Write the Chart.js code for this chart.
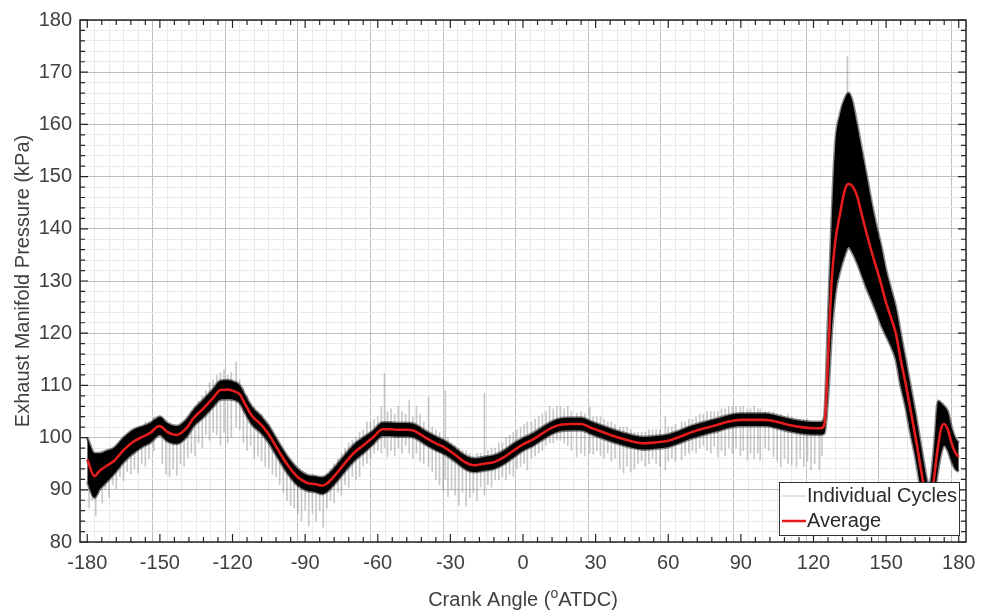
<!DOCTYPE html>
<html>
<head>
<meta charset="utf-8">
<script src="https://cdn.jsdelivr.net/npm/chart.js@4.4.1/dist/chart.umd.min.js"></script>
<style>
  body { margin: 0; background: #fff; }
  #wrap { width: 985px; height: 616px; }
</style>
</head>
<body>
<div id="wrap"><canvas id="pressureChart" width="985" height="616"></canvas></div>
<script>
// crank angle (deg ATDC) and pressure traces
const angles = [-180,-177,-175,-172,-169,-165,-161,-157,-154,-151,-150,-147,-143,-139,-136,-132,-128,-125,-122,-120,-117,-115,-112,-108,-105,-101,-97,-93,-89,-86,-83,-81,-78,-75,-70,-66,-62,-58,-55,-52,-48,-45,-40,-36,-32,-28,-24,-20,-16,-12,-8,-4,0,4,8,12,16,20,24,28,32,38,44,50,55,60,65,70,75,80,85,90,95,100,105,110,115,120,123,124.5,126,127.5,129,131,133,134.5,136,138,140,142,144,146,148,150,152,154,156,158,160,162,164,166,167,168,169,170,171.5,173,174,175.5,177,178.5,180];

const avgPressure = [95.8,92.6,93.6,94.6,95.5,97.6,99.2,100.2,100.9,102.1,102.2,101.1,100.5,101.8,103.8,105.6,107.6,109.1,109.2,109.0,108.3,106.6,104.2,102.4,100.6,97.5,94.6,92.4,91.3,91.1,90.8,91.2,92.6,94.3,97.0,98.5,100.0,101.6,101.6,101.5,101.5,101.3,99.9,98.9,98.0,96.7,95.3,94.7,95.0,95.3,96.2,97.5,98.7,99.6,100.8,101.9,102.5,102.6,102.6,101.9,101.2,100.2,99.4,98.9,99.1,99.4,100.2,101.1,101.8,102.4,103.1,103.4,103.4,103.4,103.0,102.4,102.0,101.8,101.8,102.5,115,130,137.5,143,147.5,148.6,148.2,146.3,142.6,139,135.6,132.5,129.3,125.8,123.0,120.0,115,110.5,105.5,100.5,95,89.5,87,86.5,89,93,98.5,102.2,102.6,101.5,99,97.2,96.3];

// upper / lower edge of the dense band of individual cycles
const bandHigh = [100,97,97,97.5,98,100,101.5,102.2,102.8,103.8,104,102.8,102.2,103.5,105.4,107.3,109.3,110.9,111,110.8,110,108.3,105.9,104,102.2,99.1,96.2,94,92.8,92.6,92.4,92.8,94.2,95.9,98.6,100,101.3,102.9,102.9,102.8,102.8,102.6,101.2,100.2,99.3,98,96.6,96,96.3,96.6,97.5,98.8,99.9,100.8,102,103.1,103.7,103.8,103.8,103.1,102.4,101.4,100.6,100.1,100.3,100.6,101.4,102.3,103,103.6,104.3,104.6,104.6,104.6,104.2,103.6,103.2,103,103,104,122,141,156,162,165,166,164.5,160,155,150,145,140.5,136.6,132,128.5,125,120,115,110,105,99.5,94,91.5,91,94,99,107,106.5,106,105,102,100,99];
const bandLow = [91.5,88.5,90,91.5,93,95.3,97,98.3,99,100.3,100.5,99.3,98.8,100.1,102.2,103.9,105.9,107.3,107.4,107.3,106.6,104.9,102.5,100.8,99,95.9,93,90.8,89.8,89.6,89.2,89.6,91,92.7,95.4,97,98.7,100.3,100.3,100.2,100.2,100,98.6,97.6,96.7,95.4,94,93.4,93.7,94,94.9,96.2,97.5,98.4,99.6,100.7,101.3,101.4,101.4,100.7,100,99,98.2,97.7,97.9,98.2,99,99.9,100.6,101.2,101.9,102.2,102.2,102.2,101.8,101.2,100.8,100.6,100.6,100.8,108,120,127.5,132,135,136.5,135.5,133.5,131,128.5,126.3,124,121.5,119.5,117.5,115,110,106,101,96.5,91,85.5,83.5,83,85,89,94,97.5,98.5,97.5,95.5,94,93.5];

// stray cycles poking out of the band: angle, min, max
const spikeAngles = [-179.2,-178,-176.5,-175.5,-173.8,-172.5,-171,-169.5,-168,-166.5,-165,-163.5,-162,-160.5,-159,-157.5,-156,-154.5,-152.5,-149,-147.5,-146,-144.5,-143,-141.5,-140,-138.5,-137,-135.5,-134,-132.5,-131,-129.5,-128,-126.5,-125,-123.5,-122,-120.5,-118.5,-117,-115.5,-114,-112.5,-111,-109.5,-108,-106.5,-105,-103.5,-102,-100.5,-99,-97.5,-96,-94.5,-93,-91.5,-90,-88.5,-87,-85.5,-84,-82.5,-81,-79.5,-78,-76.5,-75,-73.5,-72,-70.5,-69,-67.5,-66,-64.5,-63,-61.5,-60,-58.5,-57.2,-56,-54.5,-53,-51.5,-50,-48.5,-47,-45.5,-44,-42.5,-41,-39,-37.5,-36,-34.5,-33,-32.1,-31,-29.5,-28,-26.5,-25,-23.5,-22,-20.5,-19,-17.5,-15.9,-14.5,-13,-11.5,-10,-8.5,-7,-5.5,-4,-2.5,-1,0.5,1.8,3.5,5,6.5,8,9.5,11,12.5,14,15.5,17,18.5,20,22.2,24,25.5,27.6,29,30.5,32,33.5,35,36.5,38,40,41.5,43,44.5,46,47.5,49,50.5,52,53.5,55,56.5,58.8,60,61.5,63,65.5,67,68.5,70,71.5,73,74.5,76,77.6,79,80.5,82,83.5,85,86.5,88,89.8,91,92.7,94,95.5,97,98,100,101.5,103.5,105,106.5,108,109.5,111,113,114.5,116,117.5,119,120.5,122.4,123.5,134];
const spikeMin = [86.5,88,85,89,87.5,90,88.5,91,90.2,92.5,91.8,93.5,93,94,93.2,95,94.5,96,97.5,95,93,92.5,94,92.8,95,94.5,96.2,97,96.5,99,98,100.5,99.5,101,100.5,98.5,101,99,100,102,101.5,99,97.5,98.5,96,96.5,95.5,94.5,94.2,93,92.5,91,89.5,88,87,86.5,85.5,84,86,83,85.5,84,86,82.8,86.5,88,87.5,89.5,89,91,90.5,92.5,92,92.5,94.5,95,96,97,97.5,97,98,96.3,97.5,96.5,98,97,98.5,97,96,97,95.5,95,94.5,93.5,92,91,90,92,88.7,90,89,87,89.5,86.8,88.5,89.5,88,90.5,89,91,90.5,92,91.9,92.5,92,93,92.5,94,94.5,95,93.8,96,96.5,97,97.5,98.5,99,99,99.5,99.5,99,98.5,97.5,96.3,97,96.5,97,96.8,97.5,96.5,96,97,95.5,96,94,93.2,94.5,93.5,94,95,95.5,94.5,95,96,95,94.5,93.8,95.5,96,95.5,95.7,96.5,97,97.5,97,98,98.5,97.5,97,98.3,96.3,97.5,96.5,98,97,98,96.5,97.5,95.7,97,96,97,95.7,98,97.5,96.3,95.5,94.4,96,95,94.8,94.4,96,94.4,95.5,93.8,95,93.8,96.5,150];
const spikeMax = [95,94,92,95,94,96.5,95,97,97,98.5,99,100,101,101.5,102,102,103,103,104,103,102,101.5,101,101,102,102.5,104,105,106,107,108,109,110.5,111,112,112.5,113,112,112.5,114.5,111,109.5,108,106.5,106,105,104.5,103,102.5,101,99.5,98,97,96,95,94,93.5,93,93,92.5,93,92.5,92.5,92.5,93,94,95,96,97,98,99,99.5,100,101,101.5,103,103,103.5,104,106,112.3,105,105.5,104.5,106,105,104.5,107.2,104,106,104.5,103,107.8,102,101.5,101,100,109,100,99,98.5,98,97.5,97.5,97,96.5,97,97,108.5,97.5,98,98,99,99,100,100.5,101,101.5,102,102.5,103,103,103.5,104,104.5,105,106,105.5,106,106,105.5,106,105,104.7,105,104.5,105.9,104,104,104,103.5,103,103,102.5,102,102,102,101.5,101,101,101,101,101.5,101.5,101.5,101.5,104,102,102,102.5,103,103,103.5,103.5,104,104.5,104.5,105,105,105,105,105.5,105.5,106,106,106,106,106,105.5,105.5,106,105.5,105.5,105,105,105,104.5,104.5,104,104.5,104,103.5,103.5,103.5,103.5,103,103,103,103,173];

const xTickLabels = [-180,-150,-120,-90,-60,-30,0,30,60,90,120,150,180];
const yTickLabels = [80,90,100,110,120,130,140,150,160,170,180];

const FONT = "'Liberation Sans', Arial, sans-serif";
const TEXT_COLOR = '#404040';
const RED = 'rgb(228,28,28)';

const toPoints = (ys) => angles.map((a, i) => ({ x: a, y: ys[i] }));
const spikeData = spikeAngles.map((a, i) => ({ x: a, y: [spikeMin[i], spikeMax[i]] }));

function gridColor(step) {
  return (c) => {
    if (!c.tick) return '#ebebeb';
    return Math.round(c.tick.value) % step === 0 ? '#bfbfbf' : '#eaeaea';
  };
}

// frame, inward ticks, axis titles and legend in MATLAB style
const matlabFrame = {
  id: 'matlabFrame',
  afterDraw(chart) {
    const { ctx, chartArea: ca, scales } = chart;
    ctx.save();
    ctx.strokeStyle = '#262626';
    ctx.lineWidth = 1.5;
    ctx.strokeRect(ca.left, ca.top, ca.right - ca.left, ca.bottom - ca.top);

    ctx.lineWidth = 1.2;
    ctx.beginPath();
    scales.x.ticks.forEach(t => {
      const px = scales.x.getPixelForValue(t.value);
      const len = Math.round(t.value) % 30 === 0 ? 8 : 5;
      ctx.moveTo(px, ca.bottom); ctx.lineTo(px, ca.bottom - len);
      ctx.moveTo(px, ca.top); ctx.lineTo(px, ca.top + len);
    });
    scales.y.ticks.forEach(t => {
      const py = scales.y.getPixelForValue(t.value);
      const len = Math.round(t.value) % 10 === 0 ? 8 : 5;
      ctx.moveTo(ca.left, py); ctx.lineTo(ca.left + len, py);
      ctx.moveTo(ca.right, py); ctx.lineTo(ca.right - len, py);
    });
    ctx.stroke();

    // y title
    ctx.fillStyle = TEXT_COLOR;
    ctx.font = '20px ' + FONT;
    ctx.textAlign = 'center';
    ctx.textBaseline = 'middle';
    ctx.save();
    ctx.translate(23, (ca.top + ca.bottom) / 2);
    ctx.rotate(-Math.PI / 2);
    ctx.fillText('Exhaust Manifold Pressure (kPa)', 0, 0);
    ctx.restore();

    // x title with superscript o
    const a = 'Crank Angle (', sup = 'o', b = 'ATDC)';
    ctx.textBaseline = 'alphabetic';
    ctx.textAlign = 'left';
    ctx.font = '20px ' + FONT;
    const wa = ctx.measureText(a).width, wb = ctx.measureText(b).width;
    ctx.font = '14px ' + FONT;
    const ws = ctx.measureText(sup).width;
    let x0 = (ca.left + ca.right) / 2 - (wa + ws + wb) / 2;
    const base = 606;
    ctx.font = '20px ' + FONT;
    ctx.fillText(a, x0, base);
    ctx.font = '14px ' + FONT;
    ctx.fillText(sup, x0 + wa, base - 8);
    ctx.font = '20px ' + FONT;
    ctx.fillText(b, x0 + wa + ws, base);

    // legend box
    const lx = 779, ly = 482, lw = 180, lh = 53;
    ctx.fillStyle = '#fff';
    ctx.fillRect(lx, ly, lw, lh);
    ctx.strokeStyle = '#333';
    ctx.lineWidth = 1;
    ctx.strokeRect(lx + 0.5, ly + 0.5, lw, lh);
    ctx.strokeStyle = '#c8c8c8';
    ctx.beginPath(); ctx.moveTo(782, 496); ctx.lineTo(806, 496); ctx.stroke();
    ctx.strokeStyle = RED;
    ctx.lineWidth = 2.5;
    ctx.beginPath(); ctx.moveTo(782, 521); ctx.lineTo(806, 521); ctx.stroke();
    ctx.fillStyle = '#2a2a2a';
    ctx.font = '20px ' + FONT;
    ctx.textBaseline = 'middle';
    ctx.fillText('Individual Cycles', 807, 496);
    ctx.fillText('Average', 807, 521);
    ctx.restore();
  }
};

const chart = new Chart('pressureChart', {
  type: 'line',
  data: {
    datasets: [
      {
        type: 'bar',
        label: 'Individual Cycles',
        data: spikeData,
        backgroundColor: 'rgba(120,120,120,0.4)',
        barThickness: 1,
        order: 4,
      },
      {
        label: 'band high',
        data: toPoints(bandHigh),
        borderColor: 'rgba(0,0,0,0.45)',
        backgroundColor: '#000',
        borderWidth: 3,
        pointRadius: 0,
        cubicInterpolationMode: 'monotone',
        fill: '+1',
        order: 3,
      },
      {
        label: 'band low',
        data: toPoints(bandLow),
        borderColor: 'rgba(0,0,0,0.45)',
        borderWidth: 3,
        pointRadius: 0,
        cubicInterpolationMode: 'monotone',
        fill: false,
        order: 2,
      },
      {
        label: 'Average',
        data: toPoints(avgPressure),
        borderColor: RED,
        borderWidth: 2.6,
        pointRadius: 0,
        cubicInterpolationMode: 'monotone',
        fill: false,
        order: 1,
      },
    ],
  },
  options: {
    responsive: false,
    animation: false,
    layout: { padding: { top: 20, right: 19, left: 0, bottom: 0 } },
    plugins: {
      legend: { display: false },
      tooltip: { enabled: false },
    },
    scales: {
      x: {
        type: 'linear',
        min: -180,
        max: 180,
        afterFit(scale) { scale.height = 74; },
        ticks: {
          stepSize: 6,
          autoSkip: false,
          maxRotation: 0,
          padding: 9,
          color: TEXT_COLOR,
          font: { family: FONT, size: 20 },
          callback: (v) => xTickLabels.includes(Math.round(v)) ? Math.round(v) : '',
        },
        grid: {
          drawTicks: false,
          color: gridColor(30),
          lineWidth: 1,
        },
        border: { display: false },
      },
      y: {
        min: 80,
        max: 180,
        afterFit(scale) { scale.width = 80; },
        ticks: {
          stepSize: 2,
          autoSkip: false,
          padding: 8,
          color: TEXT_COLOR,
          font: { family: FONT, size: 20 },
          callback: (v) => yTickLabels.includes(Math.round(v)) ? Math.round(v) : '',
        },
        grid: {
          drawTicks: false,
          color: gridColor(10),
          lineWidth: 1,
        },
        border: { display: false },
      },
    },
  },
  plugins: [matlabFrame],
});
</script>
</body>
</html>
